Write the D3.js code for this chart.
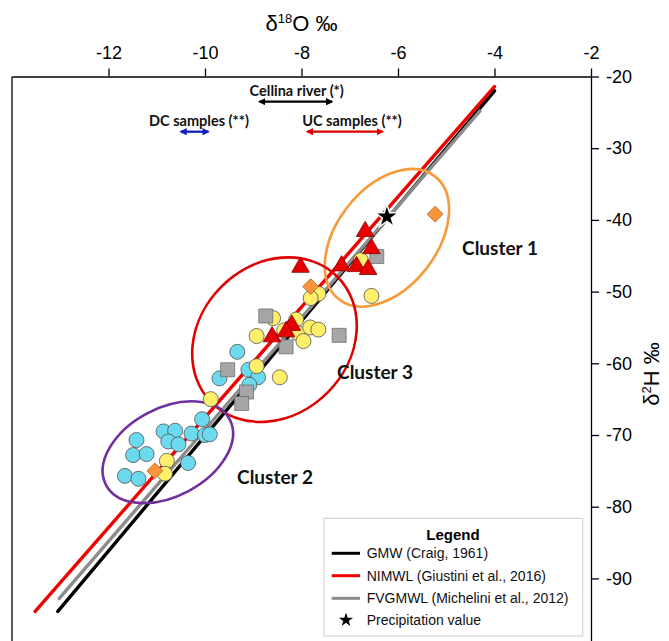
<!DOCTYPE html>
<html>
<head>
<meta charset="utf-8">
<script src="https://cdn.jsdelivr.net/npm/d3@7"></script>
<style>
  body { margin: 0; background: #fff; }
  svg { display: block; }
</style>
</head>
<body>
<svg id="chart" width="669" height="641"></svg>
<script>
// ---- axis ticks ----
const xTicks = [-12, -10, -8, -6, -4, -2];
const yTicks = [-20, -30, -40, -50, -60, -70, -80, -90];

// ---- meteoric water lines, end points [δ18O, δ2H] ----
const gmwLine    = [[-13.05, -94.6], [-4.0, -22.0]];
const nimwlLine  = [[-13.52, -94.6], [-4.0, -21.4]];
const fvgmwlLine = [[-13.02, -92.8], [-4.3, -24.8]];

// ---- samples [δ18O, δ2H] ----
const cyanSamples = [
  [-9.33, -58.4], [-9.10, -60.9], [-8.90, -61.95], [-9.70, -62.1], [-9.08, -63.0],
  [-10.06, -67.8], [-10.28, -69.8], [-10.00, -70.0], [-9.90, -69.9],
  [-10.86, -69.5], [-10.62, -69.4], [-10.76, -70.9], [-10.55, -71.3],
  [-11.42, -70.7], [-11.49, -72.8], [-11.21, -72.65], [-10.35, -73.9],
  [-11.66, -75.7], [-11.38, -76.1]
];
const yellowSamples = [
  [-6.77, -45.6], [-6.55, -50.6], [-7.65, -50.3], [-7.81, -50.9],
  [-8.59, -53.7], [-8.11, -53.9], [-8.07, -55.8], [-7.82, -55.0], [-7.65, -55.3],
  [-7.96, -56.9], [-8.93, -56.2], [-8.36, -55.4], [-8.93, -60.4], [-8.45, -61.95],
  [-9.88, -65.0], [-10.79, -73.6], [-10.83, -75.4]
];
const graySamples = [
  [-6.44, -45.1], [-8.74, -53.4], [-7.22, -56.1], [-8.32, -57.7],
  [-9.53, -60.9], [-9.14, -64.0], [-9.24, -65.6]
];
const redSamples = [
  [-6.68, -41.6], [-6.55, -44.0], [-7.17, -46.4], [-6.86, -46.5], [-6.62, -46.9],
  [-8.02, -46.6], [-8.20, -54.7], [-8.32, -55.6], [-8.61, -56.3]
];
const orangeSamples = [[-5.23, -39.2], [-7.81, -49.3], [-11.04, -75.0]];
const precipitation = [[-6.23, -39.55]];

// ---- δ18O ranges of the reference water groups ----
const rangeLabels = ["Cellina river (*)", "DC samples (**)", "UC samples (**)"];
const rangeFrom = [-8.87, -10.50, -7.88];
const rangeTo   = [-7.37, -9.93, -6.32];

// ---- cluster outlines: centre [δ18O, δ2H] ----
const clusterNames = ["Cluster 1", "Cluster 3", "Cluster 2"];
const clusterCentres = [[-6.23, -42.5], [-8.56, -56.7], [-10.77, -72.4]];

// ---- legend ----
const legendItems = ["GMW (Craig, 1961)", "NIMWL (Giustini et al., 2016)",
                     "FVGMWL (Michelini et al., 2012)", "Precipitation value"];

// ================= drawing =================
const svg = d3.select("#chart");
const W = 669, H = 641;
const plotLeft = 12, plotRight = 591, plotTop = 76.5;

const x = d3.scaleLinear().domain([-14, -2]).range([plotLeft, plotRight]);
const y = d3.scaleLinear().domain([-20, -100]).range([plotTop, plotTop + 80 * 7.17]);

const axisFont = "'Liberation Sans', Arial, sans-serif";
const calFont = "Lato, 'Open Sans', sans-serif";

// left frame
svg.append("line")
  .attr("x1", plotLeft).attr("x2", plotLeft)
  .attr("y1", plotTop).attr("y2", H + 5)
  .attr("stroke", "#000").attr("stroke-width", 1.3);

// top axis (δ18O)
const gx = svg.append("g")
  .attr("transform", `translate(0,${plotTop})`)
  .call(d3.axisTop(x).tickValues(xTicks).tickSize(8).tickSizeOuter(0)
        .tickPadding(10).tickFormat(d => String(d)));
gx.selectAll("path, line").attr("stroke", "#000").attr("stroke-width", 1.3);
gx.selectAll("text").attr("font-family", axisFont).attr("font-size", 18).attr("fill", "#000");

// right axis (δ2H), running on below the visible area
const gy = svg.append("g")
  .attr("transform", `translate(${plotRight},0)`)
  .call(d3.axisRight(y).tickValues(yTicks).tickSize(8).tickSizeOuter(0)
        .tickPadding(7).tickFormat(d => String(d)));
gy.selectAll("path, line").attr("stroke", "#000").attr("stroke-width", 1.3);
gy.selectAll("text").attr("font-family", axisFont).attr("font-size", 18).attr("fill", "#000");

// axis titles
const tx = svg.append("text")
  .attr("x", (plotLeft + plotRight) / 2).attr("y", 31)
  .attr("text-anchor", "middle")
  .attr("font-family", axisFont).attr("font-size", 22);
tx.append("tspan").text("δ");
tx.append("tspan").attr("font-size", 13).attr("dy", -8).text("18");
tx.append("tspan").attr("dy", 8).text("O ‰");

const ty = svg.append("text")
  .attr("transform", `translate(659,${y(-61.5)}) rotate(-90)`)
  .attr("text-anchor", "middle")
  .attr("font-family", axisFont).attr("font-size", 22);
ty.append("tspan").text("δ");
ty.append("tspan").attr("font-size", 13).attr("dy", -8).text("2");
ty.append("tspan").attr("dy", 8).text("H ‰");

// water lines
const line = d3.line().x(d => x(d[0])).y(d => y(d[1]));
const wl = [
  { pts: gmwLine, color: "#000000" },
  { pts: fvgmwlLine, color: "#8C8C8C" },
  { pts: nimwlLine, color: "#F00000" }
];
svg.append("g").selectAll("path").data(wl).join("path")
  .attr("d", d => line(d.pts))
  .attr("fill", "none").attr("stroke", d => d.color)
  .attr("stroke-width", 3.4).attr("stroke-linecap", "round");

// cluster ellipses
const ellStyle = [
  { rx: 78, ry: 50, rot: -52, color: "#F79A3A" },
  { rx: 89, ry: 75, rot: -45, color: "#E00000" },
  { rx: 70, ry: 44, rot: -28, color: "#7030A0" }
];
svg.append("g").selectAll("ellipse").data(clusterCentres).join("ellipse")
  .attr("transform", (d, i) => `translate(${x(d[0])},${y(d[1])}) rotate(${ellStyle[i].rot})`)
  .attr("rx", (d, i) => ellStyle[i].rx).attr("ry", (d, i) => ellStyle[i].ry)
  .attr("fill", "none").attr("stroke", (d, i) => ellStyle[i].color).attr("stroke-width", 2.6);

// sample markers
const pts = svg.append("g");
function circles(data, fill) {
  pts.append("g").selectAll("circle").data(data).join("circle")
    .attr("cx", d => x(d[0])).attr("cy", d => y(d[1])).attr("r", 7.5)
    .attr("fill", fill).attr("stroke", "#505050").attr("stroke-width", 0.8);
}
circles(cyanSamples, "#6DD9EF");
circles(yellowSamples, "#FFEF6A");
pts.append("g").selectAll("path").data(graySamples).join("path")
  .attr("transform", d => `translate(${x(d[0])},${y(d[1])})`)
  .attr("d", d3.symbol().type(d3.symbolSquare).size(196))
  .attr("fill", "#A6A6A6").attr("stroke", "#6E6E6E").attr("stroke-width", 0.8);
pts.append("g").selectAll("path").data(orangeSamples).join("path")
  .attr("transform", d => `translate(${x(d[0])},${y(d[1])}) rotate(45)`)
  .attr("d", d3.symbol().type(d3.symbolSquare).size(125))
  .attr("fill", "#F7943C").attr("stroke", "#B8651E").attr("stroke-width", 0.8);
pts.append("g").selectAll("path").data(redSamples).join("path")
  .attr("transform", d => `translate(${x(d[0])},${y(d[1])})`)
  .attr("d", d3.symbol().type(d3.symbolTriangle).size(135))
  .attr("fill", "#E60000").attr("stroke", "#8B0000").attr("stroke-width", 0.8);
pts.append("g").selectAll("path").data(precipitation).join("path")
  .attr("transform", d => `translate(${x(d[0])},${y(d[1])})`)
  .attr("d", d3.symbol().type(d3.symbolStar).size(170))
  .attr("fill", "#000").attr("stroke", "#fff").attr("stroke-width", 1.5);

// δ18O range arrows
const defs = svg.append("defs");
const arrowColors = ["#000000", "#1020C0", "#E00000"];
arrowColors.forEach((c, i) => {
  ["s", "e"].forEach(k => {
    defs.append("marker")
      .attr("id", `ah${i}${k}`).attr("viewBox", "0 0 10 10")
      .attr("refX", 8).attr("refY", 5)
      .attr("markerWidth", 3.2).attr("markerHeight", 3.2)
      .attr("markerUnits", "strokeWidth").attr("orient", "auto-start-reverse")
      .append("path").attr("d", "M0,0 L10,5 L0,10 Z").attr("fill", c);
  });
});
const arrowY = [101.7, 131.7, 131.7];
const labelY = [95.5, 125.5, 125.5];
const labelX = [296.7, 199, 352];
rangeLabels.forEach((lab, i) => {
  svg.append("line")
    .attr("x1", x(rangeFrom[i])).attr("x2", x(rangeTo[i]))
    .attr("y1", arrowY[i]).attr("y2", arrowY[i])
    .attr("stroke", arrowColors[i]).attr("stroke-width", 2.3)
    .attr("marker-start", `url(#ah${i}s)`).attr("marker-end", `url(#ah${i}e)`);
  svg.append("text")
    .attr("x", labelX[i]).attr("y", labelY[i])
    .attr("text-anchor", "middle")
    .attr("font-family", calFont).attr("font-weight", 700).attr("font-size", 14.5)
    .attr("fill", "#111").text(lab);
});

// cluster labels
const clusterLabelPos = [[500, 255], [375, 379], [275, 484]];
clusterNames.forEach((n, i) => {
  svg.append("text")
    .attr("x", clusterLabelPos[i][0]).attr("y", clusterLabelPos[i][1])
    .attr("text-anchor", "middle")
    .attr("font-family", calFont).attr("font-weight", 700).attr("font-size", 19)
    .attr("fill", "#111").text(n);
});

// legend
const lg = svg.append("g");
lg.append("rect").attr("x", 324).attr("y", 518.3).attr("width", 258.7).attr("height", 117.7)
  .attr("fill", "#fff").attr("stroke", "#D4D4D4").attr("stroke-width", 1.2);
lg.append("text").attr("x", 453).attr("y", 539.5).attr("text-anchor", "middle")
  .attr("font-family", axisFont).attr("font-weight", 700).attr("font-size", 15)
  .text("Legend");
const rowY = [553.3, 575.7, 598.3, 620];
const rowColors = ["#000000", "#F00000", "#8C8C8C"];
legendItems.forEach((t, i) => {
  if (i < 3) {
    lg.append("line").attr("x1", 331.7).attr("x2", 360).attr("y1", rowY[i]).attr("y2", rowY[i])
      .attr("stroke", rowColors[i]).attr("stroke-width", 3);
  } else {
    lg.append("path").attr("transform", `translate(346,${rowY[i]})`)
      .attr("d", d3.symbol().type(d3.symbolStar).size(62)).attr("fill", "#000");
  }
  lg.append("text").attr("x", 366.7).attr("y", rowY[i] + 5)
    .attr("font-family", axisFont).attr("font-size", 14).attr("fill", "#111").text(t);
});
</script>
</body>
</html>
